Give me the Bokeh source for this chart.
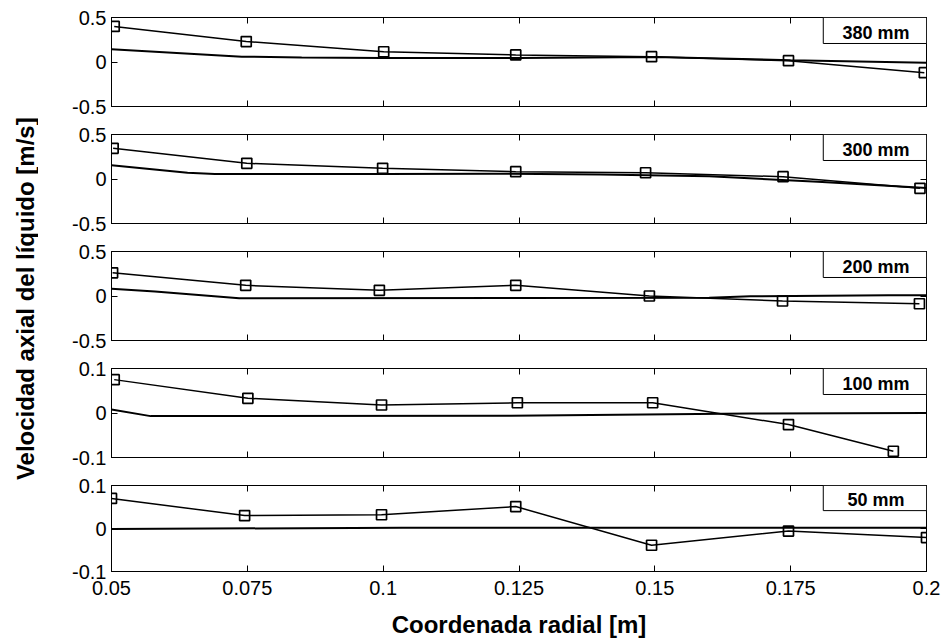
import numpy as np
from bokeh.plotting import figure
from bokeh.layouts import column, row
from bokeh.models import (FixedTicker, LinearAxis, Range1d, BoxAnnotation, Label,
                          CustomLabelingPolicy)
from bokeh.embed import file_html
from bokeh.resources import INLINE

# ---------------- data ----------------
x_ticks = [0.05, 0.075, 0.1, 0.125, 0.15, 0.175, 0.2]
x_tick_labels = ["0.05", "0.075", "0.1", "0.125", "0.15", "0.175", "0.2"]

panel_names = ["380 mm", "300 mm", "200 mm", "100 mm", "50 mm"]
y_limits = [0.5, 0.5, 0.5, 0.1, 0.1]
y_ticks_big = [-0.5, 0.0, 0.5]
y_tick_labels_big = ["-0.5", "0", "0.5"]
y_ticks_small = [-0.1, 0.0, 0.1]
y_tick_labels_small = ["-0.1", "0", "0.1"]

# measured (squares)
meas_x_380 = [0.0505, 0.0748, 0.1001, 0.1244, 0.1494, 0.1746, 0.1996]
meas_y_380 = [0.40, 0.23, 0.115, 0.08, 0.06, 0.015, -0.12]
meas_x_300 = [0.0503, 0.0749, 0.0999, 0.1244, 0.1483, 0.1736, 0.1988]
meas_y_300 = [0.345, 0.176, 0.12, 0.082, 0.07, 0.026, -0.105]
meas_x_200 = [0.0502, 0.0747, 0.0993, 0.1244, 0.149, 0.1735, 0.1987]
meas_y_200 = [0.26, 0.12, 0.064, 0.12, 0.0, -0.056, -0.087]
meas_x_100 = [0.0505, 0.0751, 0.0997, 0.1247, 0.1496, 0.1746, 0.1939]
meas_y_100 = [0.075, 0.033, 0.018, 0.023, 0.023, -0.026, -0.086]
meas_x_50 = [0.05, 0.0745, 0.0997, 0.1244, 0.1494, 0.1746, 0.2]
meas_y_50 = [0.07, 0.03, 0.032, 0.051, -0.039, -0.006, -0.021]

# simulated (plain line)
sim_x_380 = [0.05, 0.074, 0.085, 0.1, 0.125, 0.15, 0.175, 0.2]
sim_y_380 = [0.143, 0.06, 0.05, 0.045, 0.045, 0.055, 0.02, -0.008]
sim_x_300 = [0.05, 0.064, 0.069, 0.1, 0.12, 0.14, 0.16, 0.18, 0.2]
sim_y_300 = [0.154, 0.07, 0.055, 0.055, 0.06, 0.05, 0.03, -0.03, -0.1]
sim_x_200 = [0.05, 0.058, 0.0735, 0.125, 0.16, 0.1676, 0.193, 0.2]
sim_y_200 = [0.082, 0.05, -0.025, -0.022, -0.02, -0.003, 0.008, 0.008]
sim_x_100 = [0.05, 0.0572, 0.1235, 0.1676, 0.2]
sim_y_100 = [0.008, -0.007, -0.006, -0.001, 0.0]
sim_x_50 = [0.05, 0.1035, 0.2]
sim_y_50 = [-0.001, 0.0016, 0.0016]

meas_x = [meas_x_380, meas_x_300, meas_x_200, meas_x_100, meas_x_50]
meas_y = [meas_y_380, meas_y_300, meas_y_200, meas_y_100, meas_y_50]
sim_x = [sim_x_380, sim_x_300, sim_x_200, sim_x_100, sim_x_50]
sim_y = [sim_y_380, sim_y_300, sim_y_200, sim_y_100, sim_y_50]

FONT = "Liberation Sans"
no_labels_code = """
for (const i of indices)
  indices.unset(i)
"""


def style_unlabeled(ax):
    ax.major_label_policy = CustomLabelingPolicy(code=no_labels_code)
    ax.major_label_text_font_size = "1px"
    ax.major_label_standoff = 0
    ax.major_tick_in = 6
    ax.major_tick_out = 0
    ax.minor_tick_line_color = None
    ax.axis_line_color = "black"
    ax.major_tick_line_color = "black"


def make_panel(i):
    lim = y_limits[i]
    last = i == 4
    if lim > 0.2:
        yt, ytl = y_ticks_big, y_tick_labels_big
    else:
        yt, ytl = y_ticks_small, y_tick_labels_small
    p = figure(width=906, height=172 if last else 117,
               x_range=Range1d(0.05, 0.2), y_range=Range1d(-lim, lim),
               output_backend="svg", toolbar_location=None,
               min_border_left=73, min_border_right=18, min_border_top=17,
               min_border_bottom=66 if last else 11)
    p.grid.visible = False
    p.outline_line_color = "black"
    p.background_fill_color = "white"
    p.border_fill_color = "white"

    # left axis
    la = p.left[0]
    la.ticker = FixedTicker(ticks=yt)
    la.major_label_overrides = {float(t): s for t, s in zip(yt, ytl)}
    la.major_label_text_font = FONT
    la.major_label_text_font_size = "20px"
    la.major_label_text_color = "black"
    la.major_label_standoff = 5
    la.major_tick_in = 6
    la.major_tick_out = 0
    la.minor_tick_line_color = None
    la.axis_line_color = "black"

    # bottom axis
    ba = p.below[0]
    ba.ticker = FixedTicker(ticks=x_ticks)
    ba.major_tick_in = 6
    ba.major_tick_out = 0
    ba.minor_tick_line_color = None
    ba.axis_line_color = "black"
    if last:
        ba.major_label_overrides = {float(t): s for t, s in zip(x_ticks, x_tick_labels)}
        ba.major_label_text_font = FONT
        ba.major_label_text_font_size = "20px"
        ba.major_label_text_color = "black"
        ba.major_label_standoff = 9
        ba.axis_label = "Coordenada radial [m]"
        ba.axis_label_text_font = FONT
        ba.axis_label_text_font_size = "24px"
        ba.axis_label_text_font_style = "bold"
        ba.axis_label_text_color = "black"
        ba.axis_label_standoff = 13
    else:
        style_unlabeled(ba)

    # top and right tick-only axes
    ta = LinearAxis(ticker=FixedTicker(ticks=x_ticks))
    style_unlabeled(ta)
    p.add_layout(ta, "above")
    ra = LinearAxis(ticker=FixedTicker(ticks=yt))
    style_unlabeled(ra)
    p.add_layout(ra, "right")

    # data
    p.line(sim_x[i], sim_y[i], line_color="black", line_width=2)
    p.line(meas_x[i], meas_y[i], line_color="black", line_width=1.5)
    p.scatter(meas_x[i], meas_y[i], marker="square", size=10,
              fill_color=None, line_color="black", line_width=1.7)

    # panel label box
    rng = 2 * lim
    p.add_layout(BoxAnnotation(left=0.181, right=0.2, top=lim, bottom=lim - 0.292 * rng,
                               fill_color="white", fill_alpha=1.0,
                               line_color="black", line_alpha=1.0, line_width=1))
    p.add_layout(Label(x=0.1907, y=lim - 0.17 * rng, text=panel_names[i],
                       text_align="center", text_baseline="middle",
                       text_font=FONT, text_font_size="18px",
                       text_font_style="bold", text_color="black"))
    return p


panels = [make_panel(i) for i in range(5)]

ylab = figure(width=38, height=640, x_range=Range1d(0, 1), y_range=Range1d(0, 1),
              output_backend="svg", toolbar_location=None, min_border=0,
              x_axis_type=None, y_axis_type=None)
ylab.grid.visible = False
ylab.outline_line_color = None
ylab.add_layout(Label(x=0.66, y=0.534, text="Velocidad axial del líquido [m/s]",
                      angle=np.pi / 2, text_align="center", text_baseline="middle",
                      text_font=FONT, text_font_size="24px", text_font_style="bold",
                      text_color="black"))

layout = row(ylab, column(*panels, spacing=0), spacing=0)

with open("out.html", "w") as f:
    f.write(file_html(layout, INLINE))
